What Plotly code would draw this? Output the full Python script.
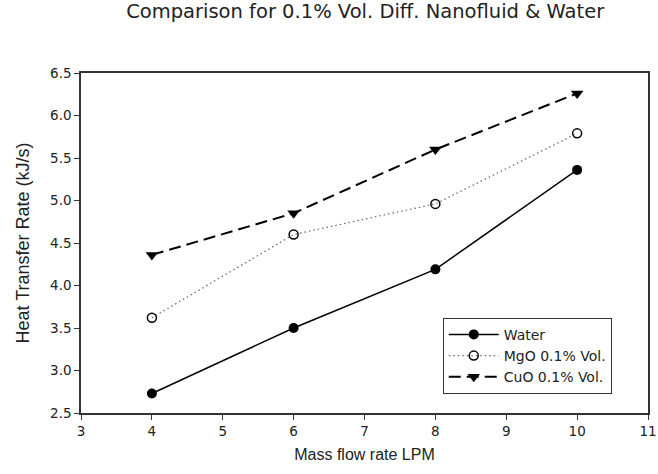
import plotly.graph_objects as go

flow = [4, 6, 8, 10]
water = [2.73, 3.50, 4.19, 5.36]
mgo = [3.62, 4.60, 4.96, 5.79]
cuo = [4.36, 4.85, 5.60, 6.26]

x_ticks = [3, 4, 5, 6, 7, 8, 9, 10, 11]
y_ticks = [2.5, 3.0, 3.5, 4.0, 4.5, 5.0, 5.5, 6.0, 6.5]

WIDE = "DejaVu Sans, Verdana, sans-serif"
ARIAL = "Liberation Sans, Arial, sans-serif"
INK = "#222222"

fig = go.Figure()
fig.add_trace(go.Scatter(
    x=flow, y=water, name="Water", mode="lines+markers",
    line=dict(color="black", width=1.5, dash="solid"),
    marker=dict(symbol="circle", size=10, color="black"),
))
fig.add_trace(go.Scatter(
    x=flow, y=mgo, name="MgO 0.1% Vol.", mode="lines+markers",
    line=dict(color="#666666", width=1.2, dash="1.5px,3px"),
    marker=dict(symbol="circle-open", size=9, color="black", line=dict(width=1.5, color="black")),
))
fig.add_trace(go.Scatter(
    x=flow, y=cuo, name="CuO 0.1% Vol.", mode="lines+markers",
    line=dict(color="black", width=2, dash="12px,6px"),
    marker=dict(symbol="triangle-down", size=11, color="black"),
))

axis_common = dict(
    showline=True, linecolor="#333333", linewidth=1.5, mirror=True,
    ticks="outside", ticklen=5, tickwidth=1, tickcolor="#333333",
    showgrid=False, zeroline=False, ticklabeloverflow="allow", automargin=False,
    tickfont=dict(family=WIDE, size=13.5, color=INK),
)

fig.update_layout(
    width=658, height=474,
    margin=dict(l=81, r=10, t=73, b=61),
    paper_bgcolor="white", plot_bgcolor="white",
    title=dict(text="Comparison for 0.1% Vol. Diff. Nanofluid & Water",
               x=0.555, xanchor="center", y=1 - 4 / 474, yanchor="top",
               font=dict(family=WIDE, size=19.5, color=INK)),
    xaxis=dict(range=[3, 11], tickvals=x_ticks, ticktext=[str(v) for v in x_ticks],
               title=dict(text="Mass flow rate LPM", font=dict(family=ARIAL, size=16, color=INK), standoff=11),
               **axis_common),
    yaxis=dict(range=[2.5, 6.5], tickvals=y_ticks, ticktext=[f"{v:.1f}" for v in y_ticks],
               title=dict(text="Heat Transfer Rate (kJ/s)", font=dict(family=ARIAL, size=18, color=INK), standoff=16),
               **axis_common),
    legend=dict(x=0.638, y=0.28, xanchor="left", yanchor="top",
                bgcolor="white", bordercolor="#333333", borderwidth=1,
                font=dict(family=WIDE, size=14, color=INK),
                itemwidth=50, tracegroupgap=0),
    showlegend=True,
)

fig.write_html("out.html")
